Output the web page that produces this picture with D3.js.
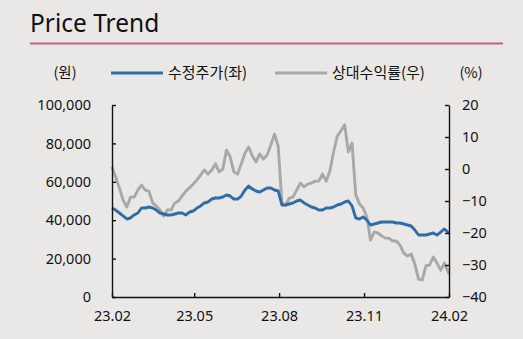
<!DOCTYPE html>
<html>
<head>
<meta charset="utf-8">
<script src="https://cdn.jsdelivr.net/npm/d3@7"></script>
<style>
  html, body { margin: 0; padding: 0; background: #e9e8e6; }
  svg { display: block; }
  text { font-family: "Noto Sans CJK KR", "Noto Sans", sans-serif; fill: #111; }
</style>
</head>
<body>
<svg id="chart" width="523" height="339"></svg>
<script>
// Observation dates (every four days, Feb 2023 - Feb 2024)
const dates = [
  "2023-02-01","2023-02-05","2023-02-09","2023-02-13","2023-02-17","2023-02-21","2023-02-25",
  "2023-03-01","2023-03-05","2023-03-09","2023-03-13","2023-03-17","2023-03-21","2023-03-25","2023-03-29",
  "2023-04-02","2023-04-06","2023-04-10","2023-04-14","2023-04-18","2023-04-22","2023-04-26","2023-04-30",
  "2023-05-04","2023-05-08","2023-05-12","2023-05-16","2023-05-20","2023-05-24","2023-05-28",
  "2023-06-01","2023-06-05","2023-06-09","2023-06-13","2023-06-17","2023-06-21","2023-06-25","2023-06-29",
  "2023-07-03","2023-07-07","2023-07-11","2023-07-15","2023-07-19","2023-07-23","2023-07-27","2023-07-31",
  "2023-08-04","2023-08-08","2023-08-12","2023-08-16","2023-08-20","2023-08-24","2023-08-28",
  "2023-09-01","2023-09-05","2023-09-09","2023-09-13","2023-09-17","2023-09-21","2023-09-25","2023-09-29",
  "2023-10-03","2023-10-07","2023-10-11","2023-10-15","2023-10-19","2023-10-23","2023-10-27","2023-10-31",
  "2023-11-04","2023-11-08","2023-11-12","2023-11-16","2023-11-20","2023-11-24","2023-11-28",
  "2023-12-02","2023-12-06","2023-12-10","2023-12-14","2023-12-18","2023-12-22","2023-12-26","2023-12-30",
  "2024-01-03","2024-01-07","2024-01-11","2024-01-15","2024-01-19","2024-01-23","2024-01-27","2024-02-01"
];

// 수정주가 (원, left axis)
const adjPrice = [
  46350,45310,43750,42190,40630,41150,42710,43750,46350,46350,46880,46350,45310,43750,43230,
  42710,42710,43230,43750,43750,42710,44270,44790,46350,47400,48960,49480,51040,51560,51560,
  52080,53130,52600,51040,51040,52600,55730,57810,56250,55210,54690,55730,56770,56770,55730,55210,
  47920,47920,48440,48960,50000,50520,48960,47920,46880,46350,45310,45310,46350,46350,
  46880,47920,48440,49480,50000,47400,41150,40630,41670,40100,37500,38020,38540,39060,39060,
  39060,39060,38540,38540,38020,37500,36980,34900,32290,32290,32290,32810,33330,32290,33850,35420,33330
];

// 상대수익률 (%, right axis)
const relReturn = [
  0.6,-2.5,-5.9,-9.7,-11.9,-8.8,-8.8,-6.6,-5.0,-6.6,-6.9,-10.6,-11.6,-12.8,-14.7,
  -12.8,-12.8,-10.6,-10.0,-8.4,-6.9,-5.9,-4.7,-3.4,-1.9,-0.3,-1.6,-0.3,1.6,-0.9,
  0.0,5.9,3.8,-0.9,-1.6,1.6,5.0,6.9,4.1,2.2,4.7,3.1,4.4,7.5,10.9,7.2,
  -10.6,-11.3,-9.1,-8.8,-6.6,-4.4,-5.6,-4.7,-4.4,-3.8,-3.8,-1.6,-3.8,-0.6,
  5.3,10.3,11.9,13.8,5.3,8.1,-8.1,-10.9,-12.2,-15.0,-22.2,-19.7,-20.0,-20.9,-21.6,
  -21.6,-22.5,-22.5,-23.8,-26.3,-27.2,-26.6,-29.7,-34.4,-34.7,-30.3,-30.0,-27.5,-29.4,-31.6,-29.4,-32.8
];

const priceTicks = [0, 20000, 40000, 60000, 80000, 100000];
const returnTicks = [-40, -30, -20, -10, 0, 10, 20];
const dateTicks = ["2023-02-01", "2023-05-01", "2023-08-01", "2023-11-01", "2024-02-01"];

const seriesNames = ["수정주가(좌)", "상대수익률(우)"];
const seriesColors = ["#2f6ca8", "#a8a8a8"];

const parse = d3.timeParse("%Y-%m-%d");
const svg = d3.select("#chart");

const plotLeft = 112, plotRight = 449, plotTop = 105, plotBottom = 297;

const x = d3.scaleTime()
  .domain([parse("2023-02-01"), parse("2024-02-01")])
  .range([plotLeft, plotRight]);
const yL = d3.scaleLinear().domain([0, 100000]).range([plotBottom, plotTop]);
const yR = d3.scaleLinear().domain([-40, 20]).range([plotBottom, plotTop]);

// Title and rule
svg.append("text")
  .attr("x", 30).attr("y", 32)
  .style("font-family", "'Noto Sans', sans-serif")
  .style("font-size", "24.5px")
  .text("Price Trend");
svg.append("line")
  .attr("x1", 30).attr("x2", 503).attr("y1", 43.5).attr("y2", 43.5)
  .attr("stroke", "#c2607f").attr("stroke-width", 2);

// Legend row
const legY = 73;
svg.append("text").attr("x", 65).attr("y", legY).attr("dy", "0.35em")
  .attr("text-anchor", "middle").style("font-size", "14.5px").text("(원)");
svg.append("text").attr("x", 471).attr("y", legY).attr("dy", "0.35em")
  .attr("text-anchor", "middle").style("font-size", "14.5px").text("(%)");
const legendX = [111, 275];
seriesNames.forEach((name, i) => {
  svg.append("line")
    .attr("x1", legendX[i]).attr("x2", legendX[i] + 52)
    .attr("y1", legY).attr("y2", legY)
    .attr("stroke", seriesColors[i]).attr("stroke-width", 3);
  svg.append("text")
    .attr("x", legendX[i] + 57).attr("y", legY).attr("dy", "0.35em")
    .style("font-size", "15px").text(name);
});

// Series lines
const dateValues = dates.map(parse);
const lineRel = d3.line().x((d, i) => x(dateValues[i])).y(d => yR(d));
const linePrice = d3.line().x((d, i) => x(dateValues[i])).y(d => yL(d));

svg.append("path").datum(relReturn)
  .attr("fill", "none").attr("stroke", seriesColors[1])
  .attr("stroke-width", 2.9).attr("stroke-linejoin", "round")
  .attr("d", lineRel);
svg.append("path").datum(adjPrice)
  .attr("fill", "none").attr("stroke", seriesColors[0])
  .attr("stroke-width", 2.9).attr("stroke-linejoin", "round")
  .attr("d", linePrice);

// Axes
const fmtPrice = d3.format(",");
const axL = svg.append("g").attr("transform", `translate(${plotLeft},0)`)
  .call(d3.axisLeft(yL).tickValues(priceTicks).tickFormat(fmtPrice)
    .tickSizeInner(-4).tickSizeOuter(0).tickPadding(21));
const axR = svg.append("g").attr("transform", `translate(${plotRight},0)`)
  .call(d3.axisRight(yR).tickValues(returnTicks)
    .tickSizeInner(-4).tickSizeOuter(0).tickPadding(13));
const axB = svg.append("g").attr("transform", `translate(0,${plotBottom})`)
  .call(d3.axisBottom(x).tickValues(dateTicks.map(parse))
    .tickFormat(d3.timeFormat("%y.%m"))
    .tickSizeInner(-4).tickSizeOuter(0).tickPadding(14));

[axL, axR, axB].forEach(g => {
  g.select(".domain").attr("stroke", "#111").attr("stroke-width", 1.4);
  g.selectAll(".tick line").attr("stroke", "#111").attr("stroke-width", 1.4);
  g.selectAll(".tick text")
    .style("font-family", "'Noto Sans', sans-serif")
    .style("font-size", "14.5px").attr("fill", "#111");
});
</script>
</body>
</html>
